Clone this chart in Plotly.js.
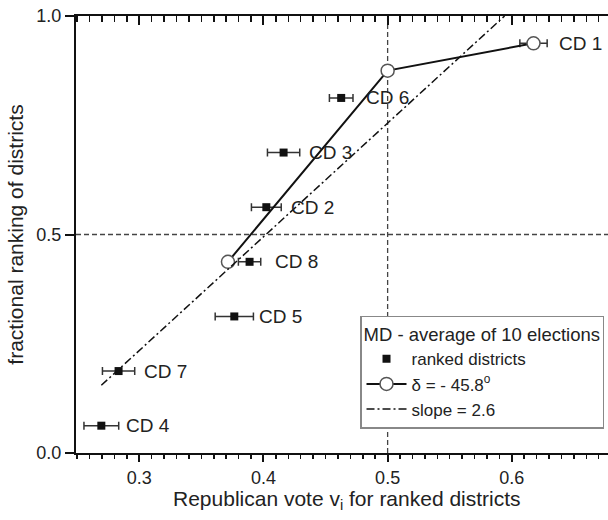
<!DOCTYPE html>
<html>
<head>
<meta charset="utf-8">
<script src="https://cdn.plot.ly/plotly-3.0.1.min.js"></script>
<style>
html,body{margin:0;padding:0;background:#fff;overflow:hidden;}
#chart{width:608px;height:520px;}
</style>
</head>
<body>
<div id="chart"></div>
<script>
// ---- data ----
const districts = ['CD 4','CD 7','CD 5','CD 8','CD 2','CD 3','CD 6','CD 1'];
const vote      = [0.2694, 0.2833, 0.3765, 0.3888, 0.4023, 0.4162, 0.4626, 0.6175];
const rankFrac  = [0.0625, 0.1875, 0.3125, 0.4375, 0.5625, 0.6875, 0.8125, 0.9375];
const voteErr   = [0.014, 0.013, 0.0154, 0.009, 0.012, 0.013, 0.0095, 0.011];

const deltaX = [0.3714, 0.5, 0.6175];
const deltaY = [0.4375, 0.875, 0.9375];

const slopeX = [0.2694, 0.5942];
const slopeY = [0.155, 1.0];

const refX = 0.5;
const refY = 0.5;

const xRange = [0.249, 0.6775];
const xTickStep = 0.1, xMinorStep = 0.01;
const yTickStep = 0.5;

const xTitle = 'Republican vote v<sub>i</sub> for ranked districts';
const yTitle = 'fractional ranking of districts';
const legendTitle = 'MD - average of 10 elections';

const FONT = 'Liberation Sans, Arial, sans-serif';
const INK = '#111';

const traces = [
  {
    x: slopeX, y: slopeY, mode: 'lines', name: 'slope = 2.6',
    xaxis: 'x2', yaxis: 'y',
    line: {color: INK, width: 1.5, dash: '8px,3px,2px,3px'},
    legendrank: 3, hoverinfo: 'skip'
  },
  {
    x: vote, y: rankFrac, mode: 'markers', name: 'ranked districts',
    marker: {symbol: 'square', size: 8, color: '#111'},
    error_x: {type: 'data', array: voteErr, visible: true, color: '#333', thickness: 1.5, width: 4},
    legendrank: 1, hoverinfo: 'skip'
  },
  {
    x: deltaX, y: deltaY, mode: 'lines+markers', name: 'δ = - 45.8<sup>o</sup>',
    line: {color: '#111', width: 2},
    marker: {symbol: 'circle', size: 13, color: '#fff', line: {color: '#555', width: 1.5}},
    legendrank: 2, hoverinfo: 'skip'
  }
];

const annotations = districts.map((d, i) => ({
  x: vote[i], y: rankFrac[i], text: d, showarrow: false,
  xanchor: 'left', yanchor: 'middle', xshift: 23,
  font: {family: FONT, size: 19, color: '#222'}
}));
annotations.push({
  xref: 'paper', yref: 'paper', x: 0.51, y: -0.107, xanchor: 'center', yanchor: 'middle',
  text: xTitle, showarrow: false, font: {family: FONT, size: 21, color: '#222'}
});

const layout = {
  width: 608, height: 520,
  margin: {l: 76, r: 0, t: 16, b: 67, pad: 0},
  paper_bgcolor: '#fff', plot_bgcolor: '#fff',
  font: {family: FONT, color: '#222'},
  showlegend: true,
  xaxis: {
    range: xRange, mirror: true,
    showgrid: false, zeroline: false,
    showline: true, linecolor: INK, linewidth: 2,
    tickmode: 'linear', tick0: 0, dtick: xTickStep, tickformat: '.1f',
    ticks: 'outside', ticklen: 7, tickwidth: 2, tickcolor: INK,
    minor: {ticks: 'outside', ticklen: 4, tickwidth: 1.5, tickcolor: INK, dtick: xMinorStep, tick0: 0},
    tickfont: {family: FONT, size: 18, color: '#222'}
  },
  xaxis2: {
    range: xRange, overlaying: 'x', side: 'top', anchor: 'y',
    showgrid: false, zeroline: false,
    showline: true, linecolor: INK, linewidth: 2,
    tickmode: 'linear', tick0: 0, dtick: xTickStep, showticklabels: false,
    ticks: 'inside', ticklen: 9, tickwidth: 2, tickcolor: INK,
    minor: {ticks: 'inside', ticklen: 6, tickwidth: 1.5, tickcolor: INK, dtick: xMinorStep, tick0: 0}
  },
  yaxis: {
    range: [0, 1],
    showgrid: false, zeroline: false,
    showline: true, linecolor: INK, linewidth: 2,
    tickmode: 'linear', tick0: 0, dtick: yTickStep, tickformat: '.1f',
    ticks: 'outside', ticklen: 9, tickwidth: 2, tickcolor: INK,
    tickfont: {family: FONT, size: 18, color: '#222'},
    title: {text: yTitle, font: {family: FONT, size: 21, color: '#222'}}
  },
  shapes: [
    {type: 'line', xref: 'x', yref: 'paper', x0: refX, x1: refX, y0: 0, y1: 1,
     line: {color: '#444', width: 1.3, dash: '5px,3px'}, layer: 'below'},
    {type: 'line', xref: 'paper', yref: 'y', x0: 0, x1: 1, y0: refY, y1: refY,
     line: {color: '#444', width: 1.3, dash: '5px,3px'}, layer: 'below'}
  ],
  annotations: annotations,
  legend: {
    x: 0.9925, xanchor: 'right', y: 0.0556, yanchor: 'bottom',
    bgcolor: '#fff', bordercolor: '#888', borderwidth: 1.5,
    font: {family: FONT, size: 17, color: '#222'},
    title: {text: legendTitle, font: {family: FONT, size: 18.5, color: '#222'}},
    itemwidth: 40, tracegroupgap: 0, traceorder: 'normal'
  }
};

Plotly.newPlot('chart', traces, layout, {displayModeBar: false, staticPlot: true});
</script>
</body>
</html>
